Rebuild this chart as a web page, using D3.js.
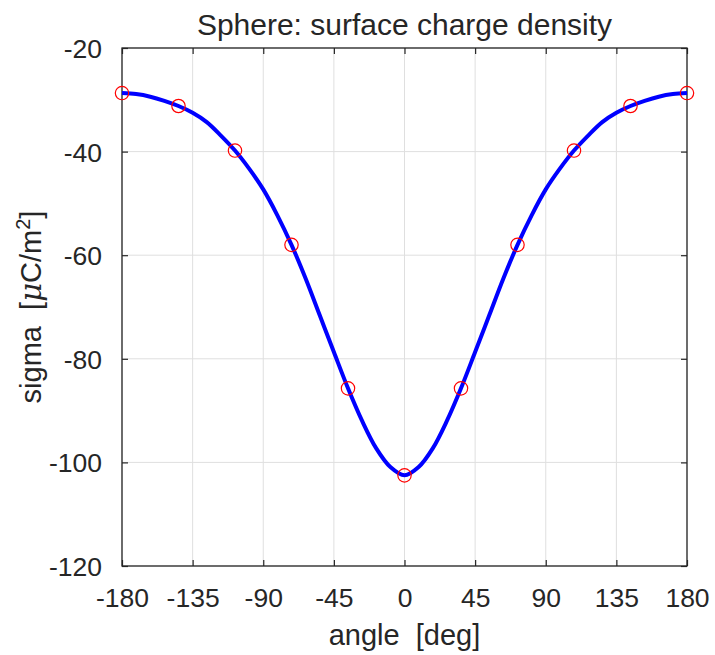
<!DOCTYPE html>
<html>
<head>
<meta charset="utf-8">
<script src="https://cdn.jsdelivr.net/npm/d3@7"></script>
<style>
  body { margin: 0; background: #fff; }
  text { font-family: "Liberation Sans", Arial, Helvetica, sans-serif; fill: #262626; }
</style>
</head>
<body>
<div id="chart"></div>
<script>
// values
var markerAngles = [-180, -144, -108, -72, -36, 0, 36, 72, 108, 144, 180];
var markerSigma = [-28.7, -31.2, -39.8, -58.0, -85.7, -102.5, -85.7, -58.0, -39.8, -31.2, -28.7];

var curveAngles = [-180, -171, -162, -153, -144, -135, -126, -117, -108, -99, -90, -81, -72, -63, -54, -45, -36, -27, -18, -9,
                   0, 9, 18, 27, 36, 45, 54, 63, 72, 81, 90, 99, 108, 117, 126, 135, 144, 153, 162, 171, 180];
var curveSigma = [-28.7, -28.9, -29.4, -30.2, -31.2, -32.5, -34.3, -36.9, -39.8, -43.3, -47.3, -52.3, -58.0, -64.5, -71.6, -78.7, -85.7, -92.0, -97.3, -100.9,
                  -102.5, -100.9, -97.3, -92.0, -85.7, -78.7, -71.6, -64.5, -58.0, -52.3, -47.3, -43.3, -39.8, -36.9, -34.3, -32.5, -31.2, -30.2, -29.4, -28.9, -28.7];

var xTicks = [-180, -135, -90, -45, 0, 45, 90, 135, 180];
var yTicks = [-120, -100, -80, -60, -40, -20];

var width = 715, height = 655;
var margin = {left: 122, right: 28, top: 48, bottom: 89};
var plotW = width - margin.left - margin.right;
var plotH = height - margin.top - margin.bottom;
var axisColor = '#262626';
var tickLen = 6;

var svg = d3.select('#chart').append('svg').attr('width', width).attr('height', height);
var g = svg.append('g').attr('transform', 'translate(' + margin.left + ',' + margin.top + ')');

var x = d3.scaleLinear().domain([-180, 180]).range([0, plotW]);
var y = d3.scaleLinear().domain([-120, -20]).range([plotH, 0]);

// plain hyphen minus like the original, not the unicode one d3 uses
var fmt = function (d) { return String(d); };

// grid
g.selectAll('.gx').data(xTicks).enter().append('line')
  .attr('x1', function (d) { return x(d); }).attr('x2', function (d) { return x(d); })
  .attr('y1', 0).attr('y2', plotH)
  .attr('stroke', '#dfdfdf').attr('stroke-width', 1);
g.selectAll('.gy').data(yTicks).enter().append('line')
  .attr('x1', 0).attr('x2', plotW)
  .attr('y1', function (d) { return y(d); }).attr('y2', function (d) { return y(d); })
  .attr('stroke', '#dfdfdf').attr('stroke-width', 1);

// axes with inward ticks (bottom/left labelled, top/right bare)
function styleAxis(sel) {
  sel.select('.domain').remove();
  sel.selectAll('.tick line').attr('stroke', axisColor).attr('stroke-width', 1.2);
  sel.selectAll('.tick text').attr('font-size', '26.5px').attr('fill', axisColor)
    .style('font-family', '"Liberation Sans", Arial, sans-serif');
}

var xAxis = g.append('g').attr('transform', 'translate(0,' + plotH + ')')
  .call(d3.axisBottom(x).tickValues(xTicks).tickFormat(fmt).tickSizeInner(-tickLen).tickSizeOuter(0));
styleAxis(xAxis);
xAxis.selectAll('.tick text').attr('dy', '0').attr('y', 41);

var xTop = g.append('g')
  .call(d3.axisTop(x).tickValues(xTicks).tickSizeInner(-tickLen).tickSizeOuter(0).tickFormat(''));
styleAxis(xTop);

var yAxis = g.append('g')
  .call(d3.axisLeft(y).tickValues(yTicks).tickFormat(fmt).tickSizeInner(-tickLen).tickSizeOuter(0).tickPadding(14 + tickLen));
styleAxis(yAxis);
yAxis.selectAll('.tick text').attr('dy', '0.36em');

var yRight = g.append('g').attr('transform', 'translate(' + plotW + ',0)')
  .call(d3.axisRight(y).tickValues(yTicks).tickSizeInner(-tickLen).tickSizeOuter(0).tickFormat(''));
styleAxis(yRight);

// box
g.append('rect').attr('x', 0).attr('y', 0).attr('width', plotW).attr('height', plotH)
  .attr('fill', 'none').attr('stroke', axisColor).attr('stroke-width', 1.3);

// curve
var curveData = curveAngles.map(function (a, i) { return [a, curveSigma[i]]; });
var line = d3.line()
  .x(function (d) { return x(d[0]); })
  .y(function (d) { return y(d[1]); })
  .curve(d3.curveCatmullRom);
g.append('path').datum(curveData)
  .attr('d', line)
  .attr('fill', 'none').attr('stroke', '#0000ff').attr('stroke-width', 4);

// markers
g.selectAll('circle').data(markerAngles).enter().append('circle')
  .attr('cx', function (d) { return x(d); })
  .attr('cy', function (d, i) { return y(markerSigma[i]); })
  .attr('r', 6.7)
  .attr('fill', 'none').attr('stroke', '#ff0000').attr('stroke-width', 1.2);

// title and labels
svg.append('text')
  .attr('x', margin.left + plotW / 2).attr('y', 35)
  .attr('text-anchor', 'middle').attr('font-size', '30px')
  .text('Sphere: surface charge density');

svg.append('text')
  .attr('x', margin.left + plotW / 2).attr('y', 645)
  .attr('text-anchor', 'middle').attr('font-size', '29px')
  .style('white-space', 'pre')
  .text('angle  [deg]');

var yl = svg.append('text')
  .attr('transform', 'translate(40.5,' + (margin.top + plotH / 2) + ') rotate(-90)')
  .attr('text-anchor', 'middle').attr('font-size', '29px')
  .style('white-space', 'pre');
yl.append('tspan').text('sigma  [');
yl.append('tspan').attr('font-style', 'italic').style('font-family', '"DejaVu Serif", serif').text('\u03bc');
yl.append('tspan').text('C/m');
yl.append('tspan').attr('font-size', '20px').attr('dy', '-11').text('2');
yl.append('tspan').attr('dy', '11').text(']');
</script>
</body>
</html>
